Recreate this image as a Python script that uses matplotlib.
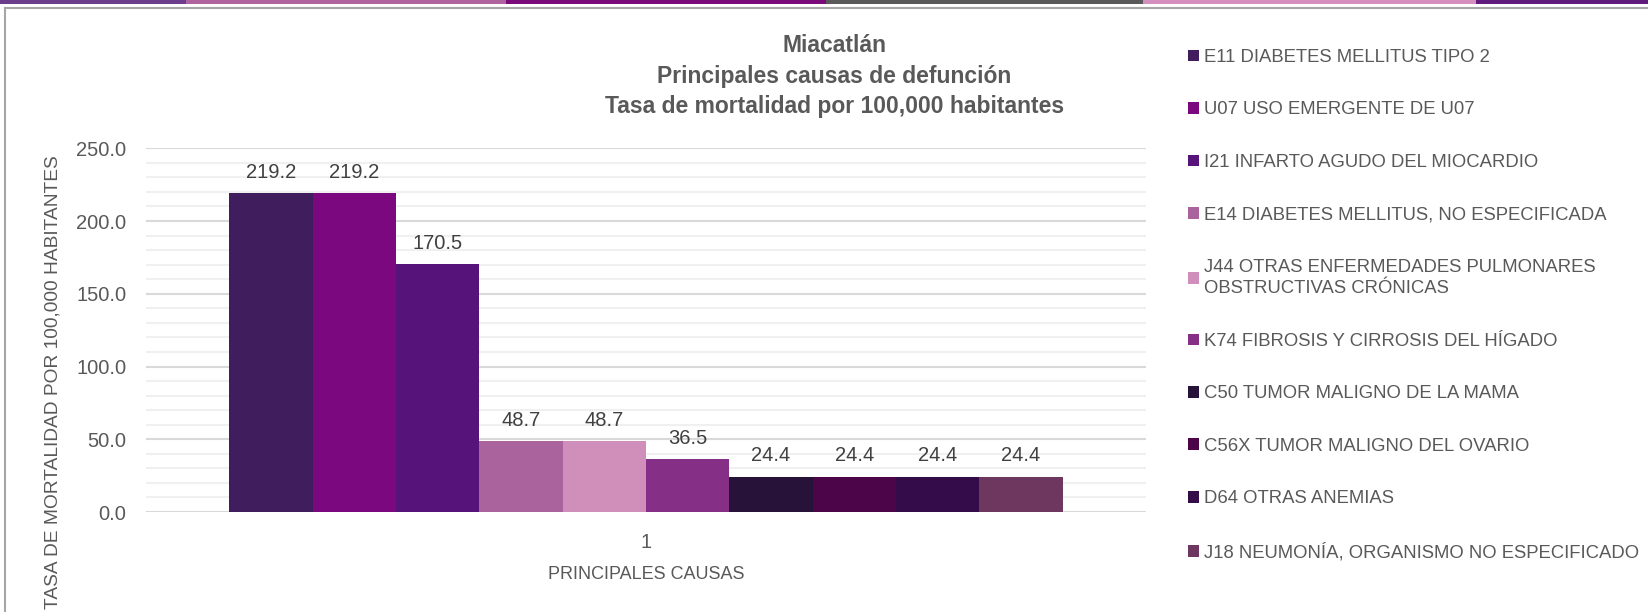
import matplotlib
matplotlib.use('Agg')
import matplotlib.pyplot as plt
from matplotlib.patches import Rectangle
from matplotlib.lines import Line2D
from matplotlib.ticker import MultipleLocator, FormatStrFormatter

plt.rcParams['font.family'] = ['Liberation Sans', 'DejaVu Sans']

# data
causas = ['E11 DIABETES MELLITUS TIPO 2',
          'U07 USO EMERGENTE DE U07',
          'I21 INFARTO AGUDO DEL MIOCARDIO',
          'E14 DIABETES MELLITUS, NO ESPECIFICADA',
          'J44 OTRAS ENFERMEDADES PULMONARES\nOBSTRUCTIVAS CRÓNICAS',
          'K74 FIBROSIS Y CIRROSIS DEL HÍGADO',
          'C50 TUMOR MALIGNO DE LA MAMA',
          'C56X TUMOR MALIGNO DEL OVARIO',
          'D64 OTRAS ANEMIAS',
          'J18 NEUMONÍA, ORGANISMO NO ESPECIFICADO']
tasas = [219.2, 219.2, 170.5, 48.7, 48.7, 36.5, 24.4, 24.4, 24.4, 24.4]
colores = ['#401d5d', '#7b087e', '#56137a', '#aa639d', '#d08fba',
           '#862f86', '#27133a', '#4b0548', '#340c4a', '#6d375f']

W, H = 1649, 612
fig = plt.figure(figsize=(W / 100, H / 100), dpi=100)
ax = fig.add_axes([146 / W, 1 - 512 / H, 1000 / W, (512 - 148.3) / H])

gris = '#595959'
handles = []
for i in range(len(tasas)):
    b = ax.bar(i, tasas[i], width=1.0, color=colores[i], zorder=3)
    ax.bar_label(b, fmt='%.1f', padding=8, fontsize=14.5, color='#404040')
    handles.append(b[0])

ax.set_xlim(-1.5, 10.5)
ax.set_ylim(0, 250)
ax.yaxis.set_major_locator(MultipleLocator(50))
ax.yaxis.set_minor_locator(MultipleLocator(10))
ax.yaxis.set_major_formatter(FormatStrFormatter('%.1f'))
ax.grid(axis='y', which='major', color='#d9d9d9', lw=1.5, zorder=1)
ax.grid(axis='y', which='minor', color='#f0f0f0', lw=1.5, zorder=0)
for s in ax.spines.values():
    s.set_visible(False)
ax.tick_params(axis='y', which='both', length=0, pad=14, labelsize=14.5, labelcolor=gris)
ax.set_xticks([4.5])
ax.set_xticklabels(['1'])
ax.tick_params(axis='x', length=0, pad=15, labelsize=14.5, labelcolor=gris)
ax.set_xlabel('PRINCIPALES CAUSAS', fontsize=13, color=gris, labelpad=10)
ax.set_ylabel('TASA DE MORTALIDAD POR 100,000 HABITANTES', fontsize=13.8, color=gris)
ax.yaxis.set_label_coords(-0.085, 0.357)

fig.text(0.506, 1 - 76 / H,
         'Miacatlán\nPrincipales causas de defunción\nTasa de mortalidad por 100,000 habitantes',
         ha='center', va='center', fontsize=16.5, fontweight='bold', color=gris,
         linespacing=1.43)

leg = fig.legend(handles, causas, loc='upper left', bbox_to_anchor=(1188 / W, 1 - 49 / H),
                 frameon=False, fontsize=13.3, handlelength=0.59, handleheight=0.59,
                 handletextpad=0.27, labelspacing=1.92, borderpad=0, borderaxespad=0,
                 labelcolor=gris)
leg.get_texts()[4].set_linespacing(1.35)

# franja superior y marco
franja = [(0, 186, '#6b3d8c'), (186, 506, '#b0649f'), (506, 826, '#7a0a7a'),
          (826, 1143, '#595959'), (1143, 1476, '#d48fbf'), (1476, 1649, '#5f1a7c')]
for x0, x1, c in franja:
    fig.add_artist(Rectangle((x0 / W, 1 - 4 / H), (x1 - x0) / W, 4 / H,
                             transform=fig.transFigure, color=c, lw=0))
fig.add_artist(Line2D([5 / W, 1.0], [1 - 8 / H] * 2, color='#a6a6a6', lw=1.5,
                      transform=fig.transFigure))
fig.add_artist(Line2D([5 / W] * 2, [0, 1 - 8 / H], color='#a6a6a6', lw=1.5,
                      transform=fig.transFigure))

fig.savefig('out.png', dpi=100)
